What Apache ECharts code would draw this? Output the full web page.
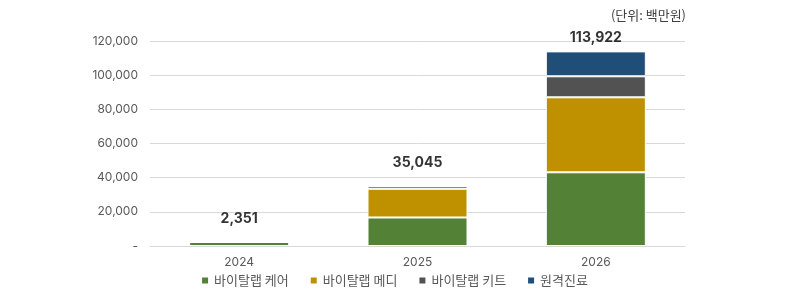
<!DOCTYPE html>
<html><head><meta charset="utf-8">
<script src="https://cdn.jsdelivr.net/npm/echarts@6/dist/echarts.min.js"></script>
<style>html,body{margin:0;padding:0;background:#fff}#c{width:788px;height:302px}</style>
</head><body><div id="c"></div>
<script>
const categories = ['2024', '2025', '2026'];
const seriesNames = ['바이탈랩 케어', '바이탈랩 메디', '바이탈랩 키트', '원격진료'];
const care = [2351, 16700, 43140];
const medi = [0, 16800, 43900];
const kit = [0, 1545, 12300];
const remote = [0, 0, 14582];
const totals = [2351, 35045, 113922];
const yTicks = [0, 20000, 40000, 60000, 80000, 100000, 120000];
const unitText = '(단위: 백만원)';

const colors = ['#538135', '#BF9000', '#525252', '#1F4E79'];
const font = "'Noto Sans CJK KR', 'Noto Sans', sans-serif";
const values = [care, medi, kit, remote];
const chart = echarts.init(document.getElementById('c'), null, {renderer: 'canvas'});
const series = values.map((v, i) => ({
  name: seriesNames[i], type: 'bar', stack: 'total', data: v, barWidth: 100,
  itemStyle: {color: colors[i], borderColor: '#fff', borderWidth: 1},
  emphasis: {disabled: true}
}));
series.push({
  name: 'total', type: 'scatter',
  data: totals.map((v, i) => i === totals.length - 1 ? {value: v, label: {distance: 7}} : v),
  symbolSize: 0,
  label: {show: true, position: 'top', distance: 16, color: '#000', fontWeight: 'bold', fontSize: 14, fontFamily: "Inter, Roboto, sans-serif",
    formatter: p => p.value.toLocaleString('en-US')},
  silent: true
});
chart.setOption({
  animation: false,
  color: colors,
  grid: {left: 150, right: 103, top: 41, bottom: 56, containLabel: false},
  title: {text: unitText, right: 97, top: 4, textStyle: {fontSize: 13, fontWeight: 'normal', color: '#404040', fontFamily: font}},
  legend: {
    data: seriesNames, bottom: 10, left: 'center', icon: 'rect', itemWidth: 8, itemHeight: 8, itemGap: 20,
    textStyle: {color: '#595959', fontSize: 13, fontFamily: font}
  },
  xAxis: {
    type: 'category', data: categories,
    axisLine: {lineStyle: {color: '#d9d9d9'}}, axisTick: {show: false},
    axisLabel: {color: '#595959', fontSize: 12, margin: 10, fontFamily: "Inter, Roboto, sans-serif"}
  },
  yAxis: {
    type: 'value', min: yTicks[0], max: yTicks[yTicks.length - 1], interval: yTicks[1] - yTicks[0],
    axisLine: {show: false}, axisTick: {show: false},
    splitLine: {lineStyle: {color: '#d9d9d9'}},
    axisLabel: {color: '#595959', fontSize: 12, margin: 12, fontFamily: "Inter, Roboto, sans-serif",
      formatter: v => v === 0 ? '-' : v.toLocaleString('en-US')}
  },
  series
});
</script></body></html>
